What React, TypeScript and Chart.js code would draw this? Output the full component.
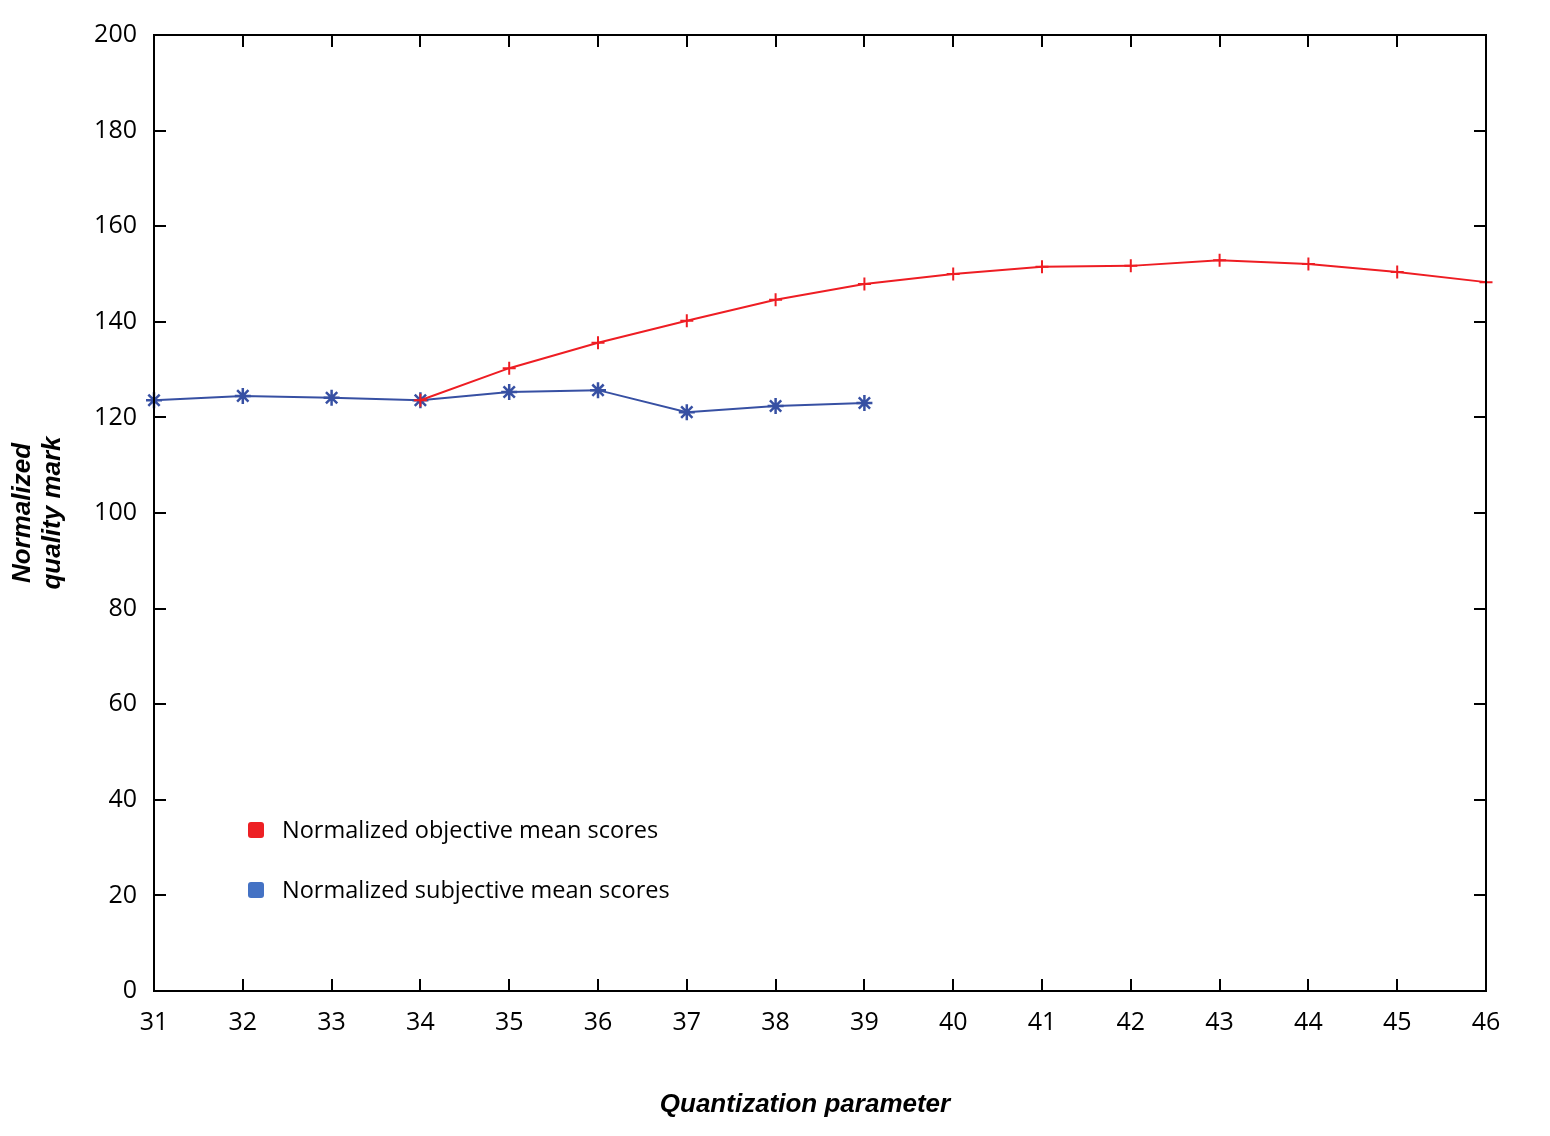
import React, { useEffect, useRef } from "react";
import { Chart, registerables } from "chart.js";

Chart.register(...registerables);

const categories = ["31", "32", "33", "34", "35", "36", "37", "38", "39", "40", "41", "42", "43", "44", "45", "46"];
const objectiveScores = [null, null, null, 123.6, 130.3, 135.6, 140.2, 144.6, 147.9, 150.0, 151.5, 151.7, 152.9, 152.1, 150.4, 148.3];
const subjectiveScores = [123.6, 124.5, 124.1, 123.6, 125.3, 125.7, 121.1, 122.4, 123.0];
const seriesLabels = ["Normalized objective mean scores", "Normalized subjective mean scores"];
const xTitle = "Quantization parameter";
const yTitle = ["Normalized", "quality mark"];
const yTicks = { min: 0, max: 200, step: 20 };

const RED = "#EE1D23";
const BLUE = "#3750A3";
const LEGEND_COLORS = ["#ED2024", "#4472C4"];
const TICK_FONT = "'Open Sans', 'Noto Sans', sans-serif";
const TITLE_FONT = "'Liberation Sans', Arial, sans-serif";

const framePlugin = {
  id: "frame",
  afterDraw(chart: any) {
    const { ctx, chartArea } = chart;
    const { left, right, top, bottom } = chartArea;
    const xs = chart.scales.x;
    const ys = chart.scales.y;
    const tl = 12;
    ctx.save();
    ctx.strokeStyle = "#000";
    ctx.lineWidth = 2;
    ctx.beginPath();
    xs.ticks.forEach((_t: any, i: number) => {
      const px = Math.round(xs.getPixelForTick(i));
      ctx.moveTo(px, bottom);
      ctx.lineTo(px, bottom - tl);
      ctx.moveTo(px, top);
      ctx.lineTo(px, top + tl);
    });
    ys.ticks.forEach((_t: any, i: number) => {
      const py = Math.round(ys.getPixelForTick(i));
      ctx.moveTo(left, py);
      ctx.lineTo(left + tl, py);
      ctx.moveTo(right, py);
      ctx.lineTo(right - tl, py);
    });
    ctx.stroke();
    ctx.strokeRect(left, top, right - left, bottom - top);

    // x-axis title
    ctx.font = `italic bold 26px ${TITLE_FONT}`;
    ctx.fillStyle = "#000";
    ctx.textAlign = "center";
    ctx.textBaseline = "middle";
    ctx.fillText(xTitle, (left + right) / 2 - 15, xs.bottom - 31);

    // legend
    ctx.font = `23.5px ${TICK_FONT}`;
    ctx.textAlign = "left";
    ctx.textBaseline = "middle";
    chart.data.datasets.forEach((ds: any, i: number) => {
      const cy = bottom - 161 + i * 60;
      const sx = left + 94;
      ctx.fillStyle = LEGEND_COLORS[i];
      ctx.beginPath();
      (ctx as any).roundRect(sx, cy - 8, 16, 16, 3);
      ctx.fill();
      ctx.fillStyle = "#000";
      ctx.fillText(ds.label, sx + 34, cy + 1);
    });
    ctx.restore();
  },
};

export default function App() {
  const ref = useRef<HTMLCanvasElement | null>(null);

  useEffect(() => {
    if (!ref.current) return;
    const chart = new Chart(ref.current, {
      type: "line",
      data: {
        labels: categories,
        datasets: [
          {
            label: seriesLabels[0],
            data: objectiveScores,
            borderColor: RED,
            backgroundColor: RED,
            borderWidth: 2,
            pointStyle: "cross",
            pointRadius: 6.5,
            pointBorderWidth: 2,
            pointBorderColor: RED,
            tension: 0,
            clip: false as any,
          },
          {
            label: seriesLabels[1],
            data: subjectiveScores,
            borderColor: BLUE,
            backgroundColor: BLUE,
            borderWidth: 2,
            pointStyle: "star",
            pointRadius: 8,
            pointBorderWidth: 2.5,
            pointBorderColor: BLUE,
            tension: 0,
            clip: false as any,
          },
        ],
      },
      options: {
        animation: false,
        responsive: true,
        maintainAspectRatio: false,
        layout: { padding: { top: 27, right: 56, left: 0, bottom: 0 } },
        plugins: { legend: { display: false }, tooltip: { enabled: false } },
        scales: {
          x: {
            offset: false,
            grid: { display: false, drawTicks: false },
            border: { display: false },
            ticks: { color: "#000", font: { family: TICK_FONT, size: 25 }, padding: 17, maxRotation: 0, autoSkip: false },
            title: { display: false },
            afterFit: (s: any) => {
              s.height = 145;
            },
          },
          y: {
            min: yTicks.min,
            max: yTicks.max,
            grid: { display: false, drawTicks: false },
            border: { display: false },
            ticks: { stepSize: yTicks.step, color: "#000", font: { family: TICK_FONT, size: 25 }, padding: 17 },
            title: {
              display: true,
              text: yTitle,
              color: "#000",
              font: { family: TITLE_FONT, size: 26, weight: "bold", style: "italic", lineHeight: 1.154 },
              padding: { top: 0, bottom: 0 },
            },
            afterFit: (s: any) => {
              s.width = 146;
              s.paddingTop = 0;
              s.paddingBottom = 0;
            },
          },
        },
      },
      plugins: [framePlugin],
    });
    return () => chart.destroy();
  }, []);

  return (
    <div style={{ width: 1534, height: 1128, position: "relative" }}>
      <canvas ref={ref} />
    </div>
  );
}
